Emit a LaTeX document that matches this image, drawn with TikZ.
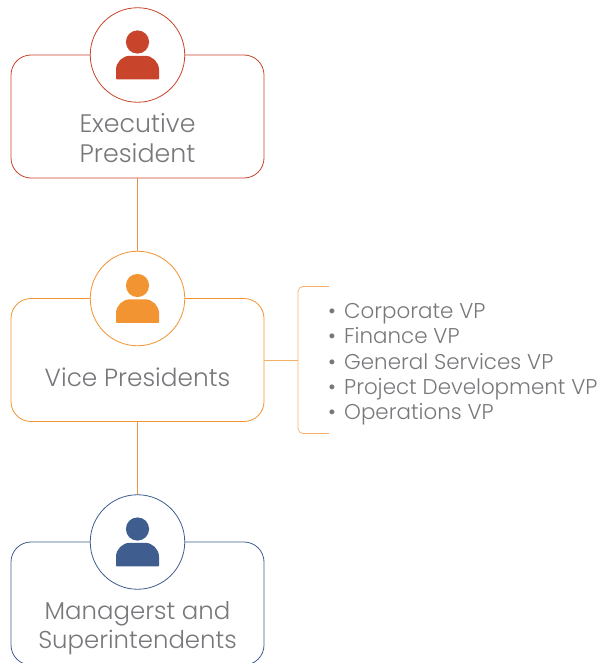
\documentclass[tikz,border=0pt]{standalone}
\usepackage{fontspec}
\setmainfont{Poppins}[UprightFont=* Light]
\definecolor{cred}{HTML}{C8442A}
\definecolor{corange}{HTML}{F39433}
\definecolor{cblue}{HTML}{3F5E8F}
\definecolor{cline}{HTML}{E8924A}
\definecolor{ctext}{HTML}{77787B}
\newcommand{\personicon}[2]{%
  \fill[#2] ([yshift=13pt]#1) circle (11.6pt);
  \fill[#2,rounded corners=0.6pt] ([shift={(-21.5pt,-24.3pt)}]#1)
     -- ++(0,9pt) arc[start angle=180,end angle=90,radius=14.5pt]
     -- ++(14pt,0) arc[start angle=90,end angle=0,radius=14.5pt]
     -- ++(0,-9pt) -- cycle;
}
\newcommand{\bul}{\makebox[16pt][l]{•}}
\tikzset{
  rolebox/.style={draw=#1,line width=0.8pt,fill=white,rectangle,rounded corners=20pt,
     minimum width=253pt,minimum height=123pt,inner sep=0pt},
  rolering/.style={draw=#1,line width=0.8pt,fill=white,circle,minimum size=94.5pt,inner sep=0pt},
  roletext/.style={text=ctext,font=\fontsize{#1}{29.5}\selectfont,align=center,inner sep=0pt},
  listtext/.style={text=ctext,font=\fontsize{21.4}{25.1}\selectfont,align=left,inner sep=0pt,anchor=north west},
  link/.style={draw=#1,line width=0.7pt}
}
\begin{document}
\begin{tikzpicture}[x=1pt,y=-1pt]
\useasboundingbox (0,0) rectangle (608,663);
\node[rolebox=cred] (box1) at (137.5,116.5) {};
\node[rolebox=corange] (box2) at (137.5,360) {};
\node[rolebox=cblue] (box3) at (137.5,603.5) {};
\draw[link=cline] (box1.south) -- (137.5,251) coordinate (t2);
\draw[link=cline] (box2.south) -- (137.5,495) coordinate (t3);
\node[rolering=cred] (ring1) at (137.5,55) {};
\node[rolering=corange] (ring2) at (137.5,298.5) {};
\node[rolering=cblue] (ring3) at (137.5,542) {};
\personicon{ring1.center}{cred}
\personicon{ring2.center}{corange}
\personicon{ring3.center}{cblue}
\node[roletext=25.3] (lab1) at (137.5,138) {Executive\\President};
\node[roletext=24.8] (lab2) at (137.5,377.5) {Vice Presidents};
\node[roletext=24.4] (lab3) at (137.5,628) {Managerst and\\Superintendents};
\coordinate (brk) at (298,360);
\coordinate (brkT) at (329,286.5);
\coordinate (brkB) at (329,433.5);
\draw[link=corange!75!white] (box2.east) -- (brk);
\draw[link=corange!75!white,rounded corners=5pt] (brkT) -| (brk) |- (brkB);
\node[listtext] (vplist) at (328,303.5) {\bul Corporate VP\\\bul Finance VP\\\bul General Services VP\\\bul Project Development VP\\\bul Operations VP};
\end{tikzpicture}
\end{document}
